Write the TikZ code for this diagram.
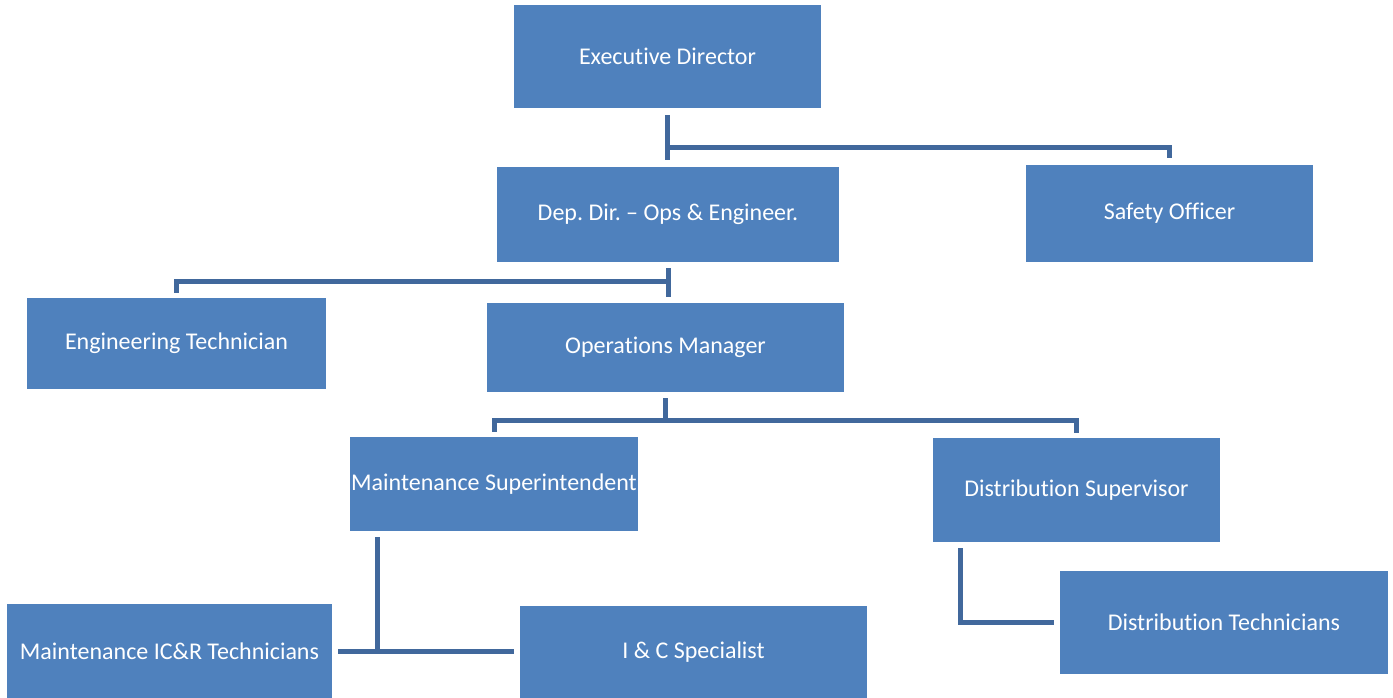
\documentclass[tikz,border=0pt]{standalone}
\usepackage{fontspec}
\setmainfont{Carlito}[Ligatures=CommonOff]
\usepackage{tikz}
\definecolor{BOXBLUE}{HTML}{4F81BD}
\definecolor{LINKBLUE}{HTML}{41689C}
\frenchspacing
\begin{document}
\begin{tikzpicture}[x=1pt,y=-1pt]
\tikzset{box/.style={fill=BOXBLUE,text=white,inner sep=0pt,align=center,font=\fontsize{24}{28}\selectfont},
 conn/.style={LINKBLUE,line width=5pt}}
\useasboundingbox (0,0) rectangle (1393,698);
% boxes
\node[box,minimum width=307pt,minimum height=103pt] (exec) at (667.5,56.5) {Executive Director};
\node[box,minimum width=342pt,minimum height=95pt] (dep) at (668,214.5) {Dep. Dir. -- Ops \& Engineer.};
\node[box,minimum width=287pt,minimum height=97pt] (safety) at (1169.5,213.5) {Safety Officer};
\node[box,minimum width=299pt,minimum height=91pt] (eng) at (176.5,343.5) {Engineering Technician};
\node[box,minimum width=357pt,minimum height=89pt] (ops) at (665.5,347.5) {Operations Manager};
\node[box,minimum width=288pt,minimum height=94pt] (msup) at (494,484) {Maintenance Superintendent};
\node[box,minimum width=287pt,minimum height=104pt] (dsup) at (1076.5,490) {Distribution Supervisor};
\node[box,minimum width=325pt,minimum height=94pt] (icr) at (169.5,651) {Maintenance IC\&R Technicians};
\node[box,minimum width=347pt,minimum height=92pt] (ic) at (693.5,652) {I \& C Specialist};
\node[box,minimum width=328pt,minimum height=103pt] (dtech) at (1224,622.5) {Distribution Technicians};
% connectors
\draw[conn] ([yshift=-7pt]exec.south) -- ++(0,45);
\draw[conn] ([yshift=-39pt]exec.south) -| ([yshift=7pt]safety.north);
\draw[conn] ([yshift=-6pt]dep.south) -- ++(0,29);
\draw[conn] ([yshift=-19pt]dep.south) -| ([yshift=5pt]eng.north);
\draw[conn] ([yshift=-6pt]ops.south) -- ++(0,22);
\draw[conn] ([yshift=5pt]msup.north) |- ([yshift=-28pt]ops.south) -| ([yshift=5pt]dsup.north);
\draw[conn] ([xshift=-117pt,yshift=-6pt]msup.south) -- ++(0,116);
\draw[conn] ([xshift=6pt]icr.east) -- ([xshift=-6pt]ic.west |- icr.east);
\draw[conn] ([xshift=-116pt,yshift=-6pt]dsup.south) |- ([xshift=-6pt]dtech.west);
\end{tikzpicture}
\end{document}
